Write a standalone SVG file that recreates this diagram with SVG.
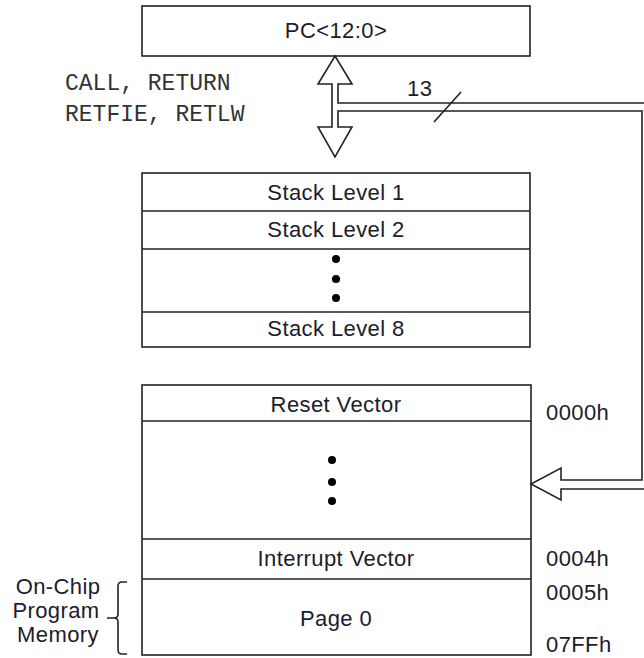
<svg xmlns="http://www.w3.org/2000/svg" width="644" height="658" viewBox="0 0 644 658">
<style>
.box{fill:#fff;stroke:#222;stroke-width:1.6}
.div{stroke:#222;stroke-width:1.6}
.t{font-family:"Liberation Sans",Arial,sans-serif;font-size:22px;fill:#1c1c2c;letter-spacing:0.4px}
.c{text-anchor:middle}
.m{font-family:"Liberation Mono","Courier New",monospace;font-size:23px;fill:#333}
.w{fill:none;stroke:#222;stroke-width:1.6}
.dot{fill:#000}
</style>
<rect width="644" height="658" fill="#fff"/>
<g id="pc">
<rect class="box" x="142" y="6" width="388" height="50"/>
<text class="t c" x="336" y="38">PC&lt;12:0&gt;</text>
</g>
<g id="ops">
<text class="m" x="65" y="90">CALL, RETURN</text>
<text class="m" x="65" y="121">RETFIE, RETLW</text>
</g>
<g id="stack">
<rect class="box" x="142" y="173" width="388" height="174"/>
<line class="div" x1="142" y1="211" x2="530" y2="211"/>
<line class="div" x1="142" y1="249" x2="530" y2="249"/>
<line class="div" x1="142" y1="312" x2="530" y2="312"/>
<text class="t c" x="336" y="200">Stack Level 1</text>
<text class="t c" x="336" y="237">Stack Level 2</text>
<circle class="dot" cx="336" cy="259" r="4"/>
<circle class="dot" cx="336" cy="279" r="4"/>
<circle class="dot" cx="336" cy="298" r="4"/>
<text class="t c" x="336" y="336">Stack Level 8</text>
</g>
<g id="memory">
<rect class="box" x="142" y="385" width="389" height="270"/>
<line class="div" x1="142" y1="421" x2="531" y2="421"/>
<line class="div" x1="142" y1="539" x2="531" y2="539"/>
<line class="div" x1="142" y1="579" x2="531" y2="579"/>
<text class="t c" x="336" y="412">Reset Vector</text>
<circle class="dot" cx="332" cy="460" r="4"/>
<circle class="dot" cx="332" cy="482" r="4"/>
<circle class="dot" cx="332" cy="501" r="4"/>
<text class="t c" x="336" y="566">Interrupt Vector</text>
<text class="t c" x="336" y="626">Page 0</text>
</g>
<g id="addresses">
<text class="t" x="546" y="420">0000h</text>
<text class="t" x="546" y="566">0004h</text>
<text class="t" x="546" y="600">0005h</text>
<text class="t" x="546" y="652">07FFh</text>
</g>
<g id="onchip">
<text class="t c" x="58" y="594">On-Chip</text>
<text class="t c" x="56" y="618">Program</text>
<text class="t c" x="58" y="642">Memory</text>
<path class="w" d="M127,582 L122,582 Q118,582 118,586 L118,614 Q118,618 114,618 L107,618 M114,618 Q118,618 118,622 L118,650 Q118,654 122,654 L127,654"/>
</g>
<g id="connectors">
<path class="w" stroke-linejoin="miter" d="M644,103 L338,103 L338,84 L352,84 L335,56 L318,84 L332,84 L332,127 L318,127 L335,157 L352,127 L338,127 L338,111 L642,111 L642,480 L561,480 L561,468 L531,484 L561,500 L561,489 L644,489"/>
<line class="w" x1="434" y1="122" x2="461" y2="92"/>
<text class="t" x="407" y="96">13</text>
</g>
</svg>
